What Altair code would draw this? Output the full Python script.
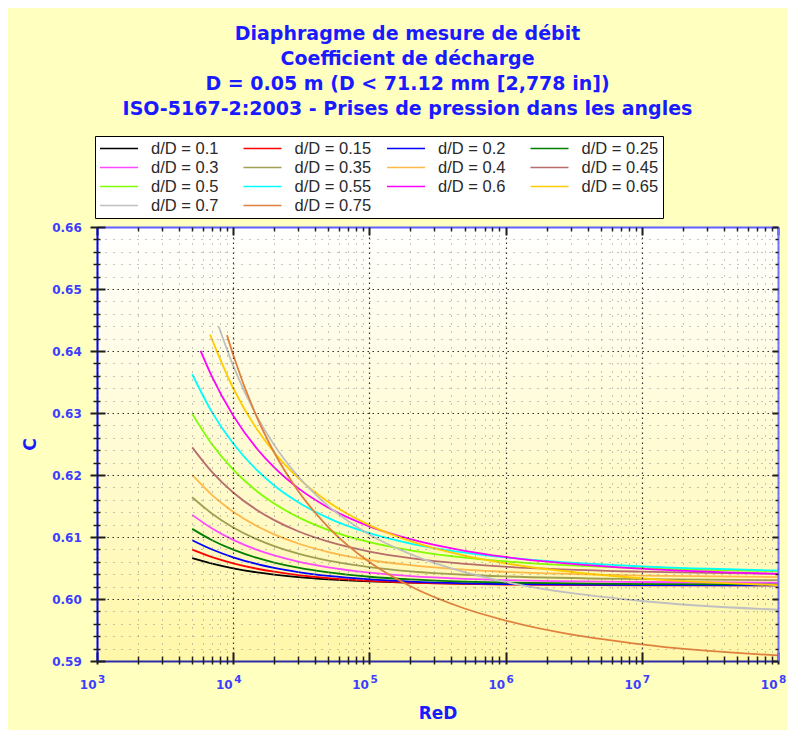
import altair as alt
import pandas as pd

# ---------------- data ----------------
labels = ["d/D = 0.1", "d/D = 0.15", "d/D = 0.2", "d/D = 0.25", "d/D = 0.3", "d/D = 0.35",
          "d/D = 0.4", "d/D = 0.45", "d/D = 0.5", "d/D = 0.55", "d/D = 0.6", "d/D = 0.65",
          "d/D = 0.7", "d/D = 0.75"]
colors = ["#000000", "#ff0000", "#0000ff", "#008000", "#ff48ff", "#a0a050", "#ffb84a",
          "#b86c6c", "#80ff00", "#00ffff", "#ff00ff", "#ffcc00", "#c0c0c0", "#e0803c"]

re_main = [5000, 7000, 10000, 15000, 20000, 30000, 50000, 100000, 200000, 500000,
           1000000, 10000000, 100000000]
re_b060 = [5760, 7000, 10000, 15000, 20000, 30000, 50000, 100000, 200000, 500000,
           1000000, 10000000, 100000000]
re_b065 = [6760, 10000, 15000, 20000, 30000, 50000, 100000, 200000, 500000,
           1000000, 10000000, 100000000]
re_b070 = [7840, 10000, 15000, 20000, 30000, 50000, 100000, 200000, 500000,
           1000000, 10000000, 100000000]
re_b075 = [9000, 10000, 15000, 20000, 30000, 50000, 100000, 200000, 500000,
           1000000, 10000000, 100000000]

c_b010 = [0.60658, 0.60569, 0.60494, 0.60429, 0.60393, 0.60353, 0.60317, 0.60284, 0.60264, 0.60248, 0.60242, 0.60233, 0.60231]
c_b015 = [0.60796, 0.60675, 0.60575, 0.60488, 0.60440, 0.60386, 0.60336, 0.60292, 0.60264, 0.60243, 0.60234, 0.60222, 0.60219]
c_b020 = [0.60948, 0.60798, 0.60673, 0.60563, 0.60502, 0.60435, 0.60372, 0.60316, 0.60281, 0.60253, 0.60241, 0.60224, 0.60220]
c_b025 = [0.61131, 0.60948, 0.60795, 0.60662, 0.60588, 0.60505, 0.60429, 0.60359, 0.60315, 0.60280, 0.60265, 0.60241, 0.60235]
c_b030 = [0.61357, 0.61137, 0.60953, 0.60792, 0.60703, 0.60603, 0.60510, 0.60425, 0.60370, 0.60326, 0.60305, 0.60274, 0.60263]
c_b035 = [0.61642, 0.61376, 0.61154, 0.60961, 0.60853, 0.60732, 0.60619, 0.60515, 0.60447, 0.60391, 0.60364, 0.60320, 0.60304]
c_b040 = [0.62001, 0.61676, 0.61407, 0.61173, 0.61042, 0.60895, 0.60758, 0.60629, 0.60545, 0.60473, 0.60438, 0.60377, 0.60354]
c_b045 = [0.62446, 0.62047, 0.61718, 0.61432, 0.61272, 0.61093, 0.60925, 0.60766, 0.60660, 0.60568, 0.60522, 0.60440, 0.60407]
c_b050 = [0.62986, 0.62492, 0.62087, 0.61735, 0.61539, 0.61320, 0.61112, 0.60916, 0.60783, 0.60666, 0.60606, 0.60497, 0.60450]
c_b055 = [0.63625, 0.63010, 0.62507, 0.62073, 0.61831, 0.61561, 0.61305, 0.61062, 0.60895, 0.60747, 0.60670, 0.60525, 0.60461]
c_b060 = [0.64003, 0.63582, 0.62958, 0.62420, 0.62122, 0.61788, 0.61473, 0.61171, 0.60964, 0.60777, 0.60678, 0.60489, 0.60405]
c_b065 = [0.64264, 0.63399, 0.62733, 0.62365, 0.61953, 0.61564, 0.61192, 0.60934, 0.60700, 0.60575, 0.60333, 0.60222]
c_b070 = [0.64391, 0.63761, 0.62938, 0.62484, 0.61977, 0.61499, 0.61041, 0.60723, 0.60432, 0.60275, 0.59968, 0.59827]
c_b075 = [0.64256, 0.63937, 0.62921, 0.62363, 0.61742, 0.61157, 0.60596, 0.60205, 0.59847, 0.59653, 0.59269, 0.59090]

x_major = [1e3, 1e4, 1e5, 1e6, 1e7, 1e8]
y_major = [0.59, 0.60, 0.61, 0.62, 0.63, 0.64, 0.65, 0.66]

title_lines = ["Diaphragme de mesure de débit",
               "Coefficient de décharge",
               "D = 0.05 m (D < 71.12 mm [2,778 in])",
               "ISO-5167-2:2003 - Prises de pression dans les angles"]

# ---------------- table ----------------
series = [
    (re_main, c_b010), (re_main, c_b015), (re_main, c_b020), (re_main, c_b025),
    (re_main, c_b030), (re_main, c_b035), (re_main, c_b040), (re_main, c_b045),
    (re_main, c_b050), (re_main, c_b055), (re_b060, c_b060), (re_b065, c_b065),
    (re_b070, c_b070), (re_b075, c_b075),
]
rows = []
for lab, (rs, cs) in zip(labels, series):
    for r, c in zip(rs, cs):
        rows.append({"re": r, "c": c, "label": lab})
df = pd.DataFrame(rows)

# Vega fills a multi-column legend column-first; this order puts the entries
# row by row (0.1, 0.15, 0.2, 0.25 on the first row) as in the original.
legend_order = [0, 4, 8, 11, 1, 5, 9, 12, 2, 6, 10, 13, 3, 7]
dom = [labels[i] for i in legend_order]
rng = [colors[i] for i in legend_order]

x_minor = [m * 10 ** k for k in range(3, 8) for m in range(2, 10)]
y_minor = [round(0.59 + 0.002 * i, 3) for i in range(1, 35) if i % 5 != 0]

W, H = 681, 434
xs = alt.Scale(type="log", domain=[1000, 100000000], nice=False)
ys = alt.Scale(domain=[0.59, 0.66], nice=False, zero=False)

TICK = "#1e1e1e"
LBL = "#3d3dff"
TITLE = "#1a1aff"


def A(orient, values, offset=0, tick=0, tw=1.5, **kw):
    d = dict(orient=orient, values=values, offset=offset, title=None, labels=False,
             domain=False, grid=False, zindex=1, labelFlush=False, labelOverlap=False)
    if tick > 0:
        d.update(ticks=True, tickSize=tick, tickWidth=tw, tickColor=TICK)
    else:
        d.update(ticks=False, tickSize=0)
    d.update(kw)
    return alt.Axis(**d)


dummy = alt.Data(values=[{"re": 1000, "c": 0.6}])


def axis_layer(xaxis, yaxis):
    return alt.Chart(dummy).mark_point(opacity=0).encode(
        x=alt.X("re:Q", scale=xs, axis=xaxis),
        y=alt.Y("c:Q", scale=ys, axis=yaxis),
    )


lab_common = dict(labels=True, labelFont="DejaVu Sans", labelFontWeight="bold",
                  labelColor=LBL)

bg = alt.Chart(alt.Data(values=[{}])).mark_rect(
    fill=alt.LinearGradient(
        gradient="linear", x1=0, x2=0, y1=0, y2=1,
        stops=[alt.GradientStop(offset=0, color="#ffffff"),
               alt.GradientStop(offset=1, color="#fff7a8")],
    )
).encode(x=alt.value(0), x2=alt.value("width"), y=alt.value(0), y2=alt.value("height"))

layers = [bg]
# minor grid
layers.append(axis_layer(
    A("bottom", x_minor, grid=True, gridColor="#8c8c8c", gridDash=[1, 7], gridWidth=1),
    A("left", y_minor, grid=True, gridColor="#8c8c8c", gridDash=[1, 7], gridWidth=1)))
# major grid
layers.append(axis_layer(
    A("bottom", x_major, grid=True, gridColor="#333333", gridDash=[1.5, 3.5], gridWidth=1.2),
    A("left", y_major, grid=True, gridColor="#333333", gridDash=[1.5, 3.5], gridWidth=1.2)))
# domains + titles
layers.append(axis_layer(
    A("bottom", x_major, domain=True, domainColor="#2c2ca8", domainWidth=2,
      title="ReD", titleX=W / 2, titleY=52, titleAngle=0, titleAlign="center",
      titleBaseline="middle", titleFont="DejaVu Sans", titleFontSize=17,
      titleFontWeight="bold", titleColor=TITLE),
    A("left", y_major, domain=True, domainColor="#0000ff", domainWidth=2,
      title="C", titleX=-67, titleY=H / 2, titleAngle=270, titleAlign="center",
      titleBaseline="middle", titleFont="DejaVu Sans", titleFontSize=17,
      titleFontWeight="bold", titleColor=TITLE)))
# major ticks + labels (bottom, left)
layers.append(axis_layer(
    A("bottom", x_major, offset=-9, tick=12, tw=2, labelExpr="'10'", labelAlign="right",
      labelOffset=-1, labelBaseline="top", labelPadding=15, labelFontSize=12, **lab_common),
    A("left", y_major, offset=-8, tick=15, tw=2, format=".2f", labelAlign="right",
      labelBaseline="middle", labelPadding=8.7, labelFontSize=12, **lab_common)))
# minor ticks (bottom, left)
layers.append(axis_layer(
    A("bottom", x_minor, offset=-5, tick=8, tw=1.5),
    A("left", y_minor, offset=-3, tick=7, tw=1.5)))
# exponents + right domain
layers.append(axis_layer(
    A("bottom", x_major, labelExpr="format(log(datum.value) / LN10, '.0f')",
      labelAlign="left", labelOffset=0.5, labelBaseline="top", labelPadding=13.5,
      labelFontSize=10.5, **lab_common),
    A("right", y_major, domain=True, domainColor="#7373ff", domainWidth=2)))
# top domain + right major ticks
layers.append(axis_layer(
    A("top", x_major, domain=True, domainColor="#6060ff", domainWidth=2),
    A("right", y_major, offset=-6, tick=6, tw=2)))
# top major ticks + right minor ticks
layers.append(axis_layer(
    A("top", x_major, offset=-8, tick=8, tw=2),
    A("right", y_minor, offset=-3, tick=3, tw=1.5)))
# top minor ticks
layers.append(axis_layer(
    A("top", x_minor, offset=-4, tick=4, tw=1.5),
    None))

lines = alt.Chart(df).mark_line(interpolate="monotone", strokeWidth=1.8, clip=True).encode(
    x=alt.X("re:Q", scale=xs, axis=None),
    y=alt.Y("c:Q", scale=ys, axis=None),
    color=alt.Color(
        "label:N",
        scale=alt.Scale(domain=dom, range=rng),
        legend=alt.Legend(
            title=None, orient="none", legendX=-2, legendY=-91, columns=4,
            gridAlign="all", columnPadding=14.5, rowPadding=2, clipHeight=17,
            symbolType="stroke", symbolSize=1444, symbolStrokeWidth=1.6,
            labelFont="Liberation Sans", labelFontSize=16.5, labelColor="#2a2a2a",
            labelOffset=12, labelLimit=200, padding=4, fillColor="#ffffff",
            strokeColor="#000000",
        ),
    ),
)
layers.append(lines)

chart = alt.layer(*layers).resolve_axis(x="independent", y="independent").properties(
    width=W, height=H,
    autosize=alt.AutoSizeParams(type="none"),
    padding={"left": 89, "top": 219, "right": 9, "bottom": 69},
    title=alt.TitleParams(
        text=title_lines, anchor="middle", frame="group", dx=-30, offset=16.5,
        font="DejaVu Sans", fontSize=19, fontWeight="bold", color=TITLE, lineHeight=25,
    ),
).configure(background="#ffffc0").configure_view(strokeWidth=0)

chart.save("out.html", embed_options={"renderer": "svg", "actions": False})
